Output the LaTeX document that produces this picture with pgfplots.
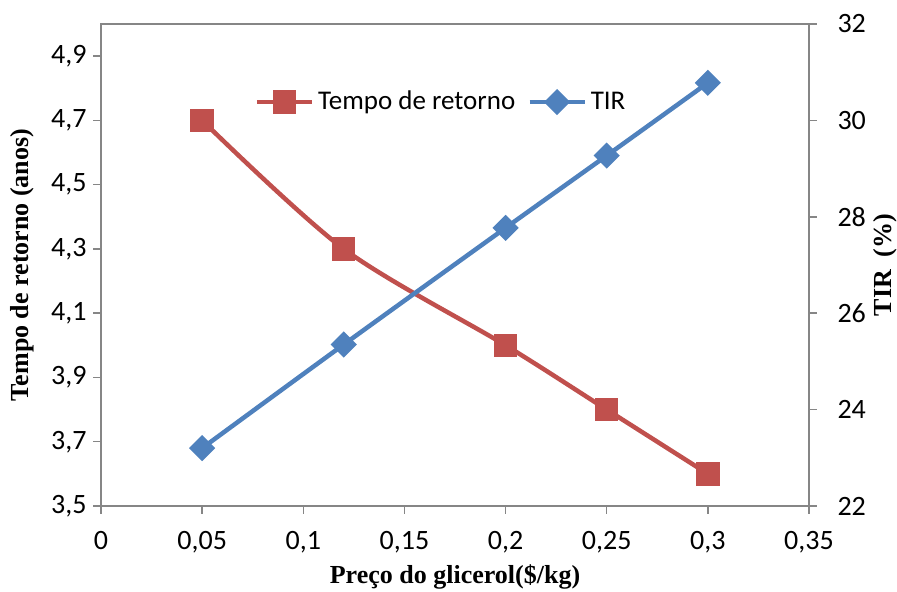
\documentclass[border=0pt]{standalone}
\usepackage{pgfplots}
\pgfplotsset{compat=1.18}
\usepackage{fontspec}
\setmainfont{Carlito}
\newfontfamily\tnr{Liberation Serif}
\definecolor{exred}{HTML}{C0504D}
\definecolor{exblue}{HTML}{4F81BD}
\definecolor{axgray}{HTML}{868686}
\begin{document}
\begin{tikzpicture}
\pgfplotsset{
  every axis/.append style={
    width=354bp, height=241bp, scale only axis,
    xmin=0, xmax=0.35,
    tick align=outside, major tick length=3.75bp,
    tick style={axgray, line width=0.75bp},
    axis line style={axgray, line width=0.75bp},
    /pgf/number format/assume math mode=true,
    tick label style={font=\fontsize{14bp}{16bp}\selectfont, black},
    scaled ticks=false,
  },
}
\begin{axis}[
  ymin=3.5, ymax=5.0,
  ytick={3.5,3.7,3.9,4.1,4.3,4.5,4.7,4.9},
  xtick={0,0.05,0.1,0.15,0.2,0.25,0.3,0.35},
  tick pos=left,
  yticklabel style={/pgf/number format/.cd, fixed, fixed zerofill, precision=1, use comma},
  xticklabel style={yshift=-5.5bp, /pgf/number format/.cd, fixed, precision=2, use comma},
  xlabel={\tnr\bfseries Preço do glicerol(\$/kg)},
  ylabel={\tnr\bfseries Tempo de retorno (anos)},
  label style={font=\fontsize{13bp}{15bp}\selectfont},
  xlabel style={at={(axis description cs:0.5,-0.147)}, anchor=center},
  ylabel style={at={(axis description cs:-0.1116,0.5)}, anchor=center, rotate=0},
]
\coordinate (sw) at (rel axis cs:0,0);
\addplot[exred, line width=2.25bp, smooth, mark=square*, mark size=4.7bp, mark options={solid}]
  coordinates {(0.05,4.7)(0.12,4.3)(0.2,4.0)(0.25,3.8)(0.3,3.6)};
\end{axis}
\begin{axis}[
  ymin=22, ymax=32,
  ytick={22,24,26,28,30,32},
  axis y line*=right,
  axis x line=none,
  yticklabel style={xshift=7bp},
  ylabel={\tnr\bfseries TIR\ \ (\%)},
  label style={font=\fontsize{13bp}{15bp}\selectfont},
  ylabel style={at={(axis description cs:1.107,0.5)}, anchor=center, rotate=0},
  legend style={at={(axis description cs:0.4816,0.838)}, anchor=center, draw=none, fill=none,
    font=\fontsize{13.5bp}{15bp}\selectfont, inner sep=0pt,
    /tikz/every even column/.append style={column sep=4bp}},
  legend columns=2,
  legend cell align=left,
  legend image code/.code={\draw[mark repeat=2,mark phase=2,#1] plot coordinates {(0bp,0bp)(13.75bp,0bp)(27.5bp,0bp)};},
]
\addlegendimage{exred, line width=2.25bp, mark=square*, mark size=4.7bp, mark options={solid}}
\addlegendentry{Tempo de retorno}
\addplot[exblue, line width=2.25bp, smooth, mark=square*, mark size=3.5bp, mark options={solid, rotate=45}]
  coordinates {(0.05,23.2)(0.12,25.35)(0.2,27.77)(0.25,29.27)(0.3,30.78)};
\addlegendentry{TIR}
\end{axis}
\pgfresetboundingbox
\path (sw) ++(-50.5bp,-43bp) rectangle ++(448.5bp,296bp);
\end{tikzpicture}
\end{document}
